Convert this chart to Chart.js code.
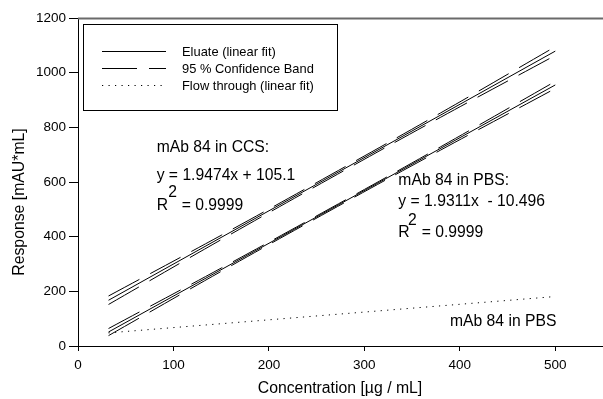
<!DOCTYPE html>
<html>
<head>
<meta charset="utf-8">
<script src="https://cdn.jsdelivr.net/npm/chart.js@4.4.1/dist/chart.umd.min.js"></script>
<style>
  html, body { margin: 0; padding: 0; background: #fff; }
  #wrap { width: 603px; height: 399px; }
</style>
</head>
<body>
<div id="wrap"><canvas id="myChart" width="603" height="399"></canvas></div>
<script>
// fit lines (start and end of the fitted range)
const fitX = [32, 500];
const ccsFit = [167.4, 1078.8];
const pbsFit = [51.3, 955.1];

// confidence bands
const bandX = [32, 150, 265, 380, 500];
const ccsUpper = [183, 405, 627, 853, 1095];
const ccsLower = [152, 389, 615, 837, 1063];
const pbsUpper = [64, 285, 505, 729, 968];
const pbsLower = [38, 273, 497, 717, 942];

// flow through
const flowX = [32, 500];
const flowY = [48, 181];

const xTicks = [0, 100, 200, 300, 400, 500];
const yTicks = [0, 200, 400, 600, 800, 1000, 1200];

const legendLabels = ['Eluate (linear fit)', '95 % Confidence Band', 'Flow through (linear fit)'];

// text on the plot, in data units
const notes = [
  { text: 'mAb 84 in CCS:', x: 82.4, y: 708 },
  { text: 'y = 1.9474x + 105.1', x: 82.4, y: 607 },
  { text: 'R', x: 82.4, y: 498 },
  { text: '2', x: 94.6, y: 546 },
  { text: '= 0.9999', x: 108.6, y: 498 },
  { text: 'mAb 84 in PBS:', x: 335.6, y: 589 },
  { text: 'y = 1.9311x  - 10.496', x: 335.6, y: 513 },
  { text: 'R', x: 335.6, y: 400 },
  { text: '2', x: 345.7, y: 443 },
  { text: '= 0.9999', x: 360, y: 400 },
  { text: 'mAb 84 in PBS', x: 389.7, y: 74 }
];

const FONT = '"Liberation Sans", Arial, sans-serif';

function pts(xs, ys) {
  return xs.map((x, i) => ({ x: x, y: ys[i] }));
}

const solid = { borderColor: '#000', borderWidth: 1, pointRadius: 0, showLine: true, fill: false };
const dashed = { borderColor: '#000', borderWidth: 1, pointRadius: 0, showLine: true, fill: false, borderDash: [35, 12], tension: 0.4 };

const extras = {
  id: 'extras',
  afterDraw(chart) {
    const ctx = chart.ctx;
    const xs = chart.scales.x, ys = chart.scales.y;
    ctx.save();
    ctx.setLineDash([]);

    // top frame line
    const topY = Math.round(ys.getPixelForValue(1200)) + 0.5;
    ctx.strokeStyle = '#6a6a6a';
    ctx.lineWidth = 2;
    ctx.beginPath();
    ctx.moveTo(xs.left, topY);
    ctx.lineTo(chart.width, topY);
    ctx.stroke();

    // notes
    ctx.fillStyle = '#000';
    ctx.font = '15.7px ' + FONT;
    ctx.textAlign = 'left';
    ctx.textBaseline = 'alphabetic';
    notes.forEach(n => {
      ctx.fillText(n.text, xs.getPixelForValue(n.x), ys.getPixelForValue(n.y));
    });

    // axis titles
    ctx.textAlign = 'center';
    ctx.textBaseline = 'middle';
    ctx.font = '15.8px ' + FONT;
    ctx.fillText('Concentration [µg / mL]', 340, 389);
    ctx.save();
    ctx.translate(20, 202);
    ctx.rotate(-Math.PI / 2);
    ctx.fillText('Response [mAU*mL]', 0, 0);
    ctx.restore();

    // legend box
    ctx.strokeStyle = '#000';
    ctx.lineWidth = 1;
    ctx.strokeRect(83.5, 24.5, 254, 86);
    const rows = [51, 68, 85];
    const dashes = [[], [35, 12], [1.2, 5.3]];
    ctx.font = '12.9px ' + FONT;
    ctx.textAlign = 'left';
    legendLabels.forEach((lab, i) => {
      ctx.beginPath();
      ctx.setLineDash(dashes[i]);
      ctx.moveTo(102, rows[i] + 0.5);
      ctx.lineTo(166, rows[i] + 0.5);
      ctx.stroke();
      ctx.setLineDash([]);
      ctx.fillText(lab, 182, rows[i] + 1);
    });
    ctx.restore();
  }
};

const ctx = document.getElementById('myChart').getContext('2d');
const myChart = new Chart(ctx, {
  type: 'scatter',
  data: {
    datasets: [
      Object.assign({ label: legendLabels[0], data: pts(fitX, ccsFit) }, solid),
      Object.assign({ label: legendLabels[1], data: pts(bandX, ccsUpper) }, dashed),
      Object.assign({ label: legendLabels[1], data: pts(bandX, ccsLower) }, dashed),
      Object.assign({ label: legendLabels[0], data: pts(fitX, pbsFit) }, solid),
      Object.assign({ label: legendLabels[1], data: pts(bandX, pbsUpper) }, dashed),
      Object.assign({ label: legendLabels[1], data: pts(bandX, pbsLower) }, dashed),
      Object.assign({ label: legendLabels[2], data: pts(flowX, flowY) }, solid, { borderDash: [1.2, 5.3] })
    ]
  },
  options: {
    responsive: false,
    animation: false,
    layout: { padding: { top: 18, right: 0, left: 0, bottom: 0 } },
    plugins: { legend: { display: false }, tooltip: { enabled: false } },
    scales: {
      x: {
        type: 'linear',
        min: 0, max: 550,
        afterFit(s) { s.height = 53; s.paddingRight = 0; },
        afterBuildTicks(s) { s.ticks = xTicks.map(v => ({ value: v })); },
        ticks: { color: '#000', font: { family: FONT, size: 13.5 }, padding: 6, maxRotation: 0,
          callback: v => String(v) },
        grid: { drawOnChartArea: false, tickLength: 5, color: '#000' },
        border: { color: '#000', width: 1 }
      },
      y: {
        min: 0, max: 1200,
        afterFit(s) { s.width = 78; s.paddingTop = 0; },
        afterBuildTicks(s) { s.ticks = yTicks.map(v => ({ value: v })); },
        ticks: { color: '#000', font: { family: FONT, size: 13.5 }, padding: 3, callback: v => String(v) },
        grid: { drawOnChartArea: false, tickLength: 9, color: '#000' },
        border: { color: '#000', width: 1 }
      }
    }
  },
  plugins: [extras]
});
</script>
</body>
</html>
